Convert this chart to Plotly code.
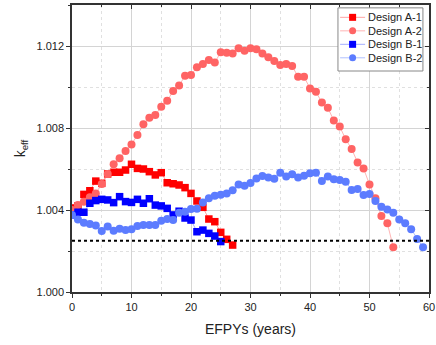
import plotly.graph_objects as go

# ---- data ----
x_a1 = list(range(0, 28))
y_a1 = [1.0041, 1.0042, 1.00476, 1.00494, 1.00541, 1.0053, 1.00576, 1.00584, 1.00584, 1.00595,
        1.00623, 1.00603, 1.006, 1.00587, 1.00571, 1.00582, 1.00533, 1.00528, 1.00522, 1.00509,
        1.00481, 1.00444, 1.00413, 1.00356, 1.00343, 1.00291, 1.00257, 1.00229]

x_a2 = list(range(0, 55))
y_a2 = [1.0040, 1.00424, 1.0044, 1.00462, 1.00481, 1.00527, 1.00576, 1.00623, 1.00652, 1.00688,
        1.0072, 1.00766, 1.00818, 1.0085, 1.00863, 1.00904, 1.00933, 1.0098, 1.01007, 1.01055,
        1.01059, 1.01096, 1.01112, 1.01132, 1.0112, 1.01169, 1.01167, 1.01164, 1.01189, 1.01177,
        1.01189, 1.01184, 1.01164, 1.01145, 1.01127, 1.01107, 1.01112, 1.01102, 1.0105, 1.0105,
        1.00993, 1.00977, 1.00924, 1.00899, 1.00836, 1.00807, 1.00745, 1.00698, 1.00632, 1.00602,
        1.00525, 1.00457, 1.00371, 1.00335, 1.00218]

x_b1 = list(range(0, 26))
y_b1 = [1.00376, 1.00389, 1.00389, 1.00433, 1.00446, 1.00452, 1.00449, 1.00436, 1.00465, 1.00441,
        1.00437, 1.00452, 1.00433, 1.00455, 1.00424, 1.0042, 1.00408, 1.00376, 1.00394, 1.00361,
        1.00351, 1.00294, 1.00302, 1.00286, 1.00273, 1.00246]

x_b2 = list(range(0, 60))
y_b2 = [1.00376, 1.00354, 1.00338, 1.00332, 1.00325, 1.00298, 1.00319, 1.00299, 1.00309, 1.00302,
        1.00306, 1.00322, 1.00327, 1.00327, 1.00327, 1.00348, 1.00356, 1.00351, 1.00387, 1.00392,
        1.00405, 1.00406, 1.00436, 1.00457, 1.00469, 1.00474, 1.0048, 1.00496, 1.00525, 1.00518,
        1.00532, 1.00554, 1.00566, 1.00558, 1.00552, 1.00582, 1.00563, 1.00574, 1.00559, 1.00567,
        1.00579, 1.00582, 1.00541, 1.00563, 1.0055, 1.00546, 1.00538, 1.00498, 1.00502, 1.00473,
        1.00478, 1.00444, 1.00416, 1.00403, 1.00387, 1.00354, 1.00335, 1.00306, 1.00259, 1.00218]

threshold = 1.0025
x_ticks = [0, 10, 20, 30, 40, 50, 60]
y_ticks = [1.000, 1.004, 1.008, 1.012]
y_tick_labels = ["1.000", "1.004", "1.008", "1.012"]

series_names = ["Design A-1", "Design A-2", "Design B-1", "Design B-2"]
marker_colors = ["#FF0000", "#FF6464", "#0000FF", "#5C7CFF"]
line_colors = ["rgba(255,90,90,0.55)", "rgba(255,120,120,0.55)",
               "rgba(90,110,255,0.55)", "rgba(110,140,255,0.55)"]
symbols = ["square", "circle", "square", "circle"]
xs_all = [x_a1, x_a2, x_b1, x_b2]
ys_all = [y_a1, y_a2, y_b1, y_b2]

fig = go.Figure()
for name, xs, ys, mc, lc, sym in zip(series_names, xs_all, ys_all, marker_colors, line_colors, symbols):
    fig.add_trace(go.Scatter(
        x=xs, y=ys, name=name, mode="lines+markers", showlegend=False,
        line=dict(color=lc, width=1),
        marker=dict(color=mc, symbol=sym, size=7.5 if sym == "square" else 8,
                    line=dict(width=0)),
    ))

fig.add_shape(type="line", xref="x", yref="y", x0=0, x1=60, y0=threshold, y1=threshold,
              line=dict(color="black", width=2, dash="dot"), layer="above")

# ---- compact legend (box, line swatches, markers, labels) ----
leg_x0, leg_x1, leg_y0, leg_y1 = 0.745, 0.983, 0.770, 0.990
fig.add_shape(type="rect", xref="paper", yref="paper", x0=leg_x0, x1=leg_x1, y0=leg_y0, y1=leg_y1,
              line=dict(color="#888", width=1), fillcolor="white", layer="above")
row_step = 0.047
for i, (name, mc, lc, sym) in enumerate(zip(series_names, marker_colors, line_colors, symbols)):
    yc = 0.957 - i * row_step
    fig.add_shape(type="line", xref="paper", yref="paper", x0=0.751, x1=0.821, y0=yc, y1=yc,
                  line=dict(color=lc, width=1), layer="above")
    fig.add_shape(type="rect" if sym == "square" else "circle",
                  xref="paper", yref="paper", xsizemode="pixel", ysizemode="pixel",
                  xanchor=0.786, yanchor=yc, x0=-3.5, x1=3.5, y0=-3.5, y1=3.5,
                  fillcolor=mc, line=dict(width=0), layer="above")
    fig.add_annotation(xref="paper", yref="paper", x=0.824, y=yc, text=name,
                       xanchor="left", yanchor="middle", showarrow=False,
                       font=dict(size=11, color="#222"))

axis_font = dict(family="Liberation Sans, Arial, sans-serif", size=11, color="#222")
grid_color = "#d4d4d4"

fig.update_layout(
    width=436, height=345,
    margin=dict(l=72, r=7, t=5, b=53, autoexpand=False),
    paper_bgcolor="white", plot_bgcolor="white",
    font=dict(family="Liberation Sans, Arial, sans-serif", size=11, color="#222"),
    showlegend=False,
    xaxis=dict(
        range=[0, 60], tickvals=x_ticks, ticks="outside", ticklen=4, tickwidth=1,
        tickcolor="#333", showline=True, linecolor="#333", linewidth=1.5, mirror=True,
        showgrid=True, gridcolor=grid_color, gridwidth=1, zeroline=False,
        tickfont=axis_font, automargin=False,
        minor=dict(dtick=5, ticks="outside", ticklen=2, tickcolor="#333",
                   showgrid=True, gridcolor="#e0e0e0", griddash="dot"),
        title=dict(text="EFPYs (years)", font=dict(size=14, color="#222"), standoff=12),
    ),
    yaxis=dict(
        range=[1.000, 1.014], tickvals=y_ticks, ticktext=y_tick_labels,
        ticks="outside", ticklen=4, tickwidth=1, tickcolor="#333",
        showline=True, linecolor="#333", linewidth=1.5, mirror=True,
        showgrid=True, gridcolor=grid_color, gridwidth=1, zeroline=False,
        tickfont=axis_font, automargin=False,
        minor=dict(dtick=0.002, ticks="outside", ticklen=2, tickcolor="#333",
                   showgrid=True, gridcolor="#e0e0e0", griddash="dot"),
        title=dict(text="k<sub>eff</sub>", font=dict(size=14, color="#222"), standoff=8),
    ),
    xaxis2=dict(
        overlaying="x", side="top", range=[0, 60], tickvals=x_ticks, matches="x",
        ticks="inside", ticklen=4, tickcolor="#333", showticklabels=False,
        showgrid=False, zeroline=False, showline=False, automargin=False,
        minor=dict(dtick=5, ticks="inside", ticklen=2, tickcolor="#333", showgrid=False),
    ),
    yaxis2=dict(
        overlaying="y", side="right", range=[1.000, 1.014], tickvals=y_ticks, matches="y",
        ticks="inside", ticklen=4, tickcolor="#333", showticklabels=False,
        showgrid=False, zeroline=False, showline=False, automargin=False,
        minor=dict(dtick=0.002, ticks="inside", ticklen=2, tickcolor="#333", showgrid=False),
    ),
)

# invisible helper trace so the mirrored tick axes are drawn
fig.add_trace(go.Scatter(x=[None], y=[None], xaxis="x2", yaxis="y2",
                         showlegend=False, hoverinfo="skip"))

fig.write_html("out.html", config={"displayModeBar": False},
               post_script="document.body.style.margin='0';document.body.style.padding='0';")
